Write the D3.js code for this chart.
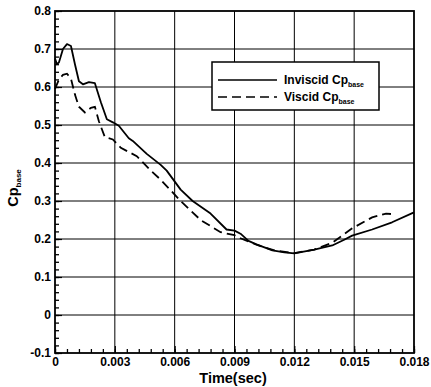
<!DOCTYPE html>
<html>
<head>
<meta charset="utf-8">
<script src="https://cdn.jsdelivr.net/npm/d3@7/dist/d3.min.js"></script>
<style>
  html, body { margin: 0; padding: 0; background: #fff; }
  svg { display: block; }
  text { font-family: "Liberation Sans", Arial, sans-serif; font-weight: bold; fill: #000; }
</style>
</head>
<body>
<svg id="chart" width="431" height="387"></svg>
<script>
// Base pressure coefficient histories
const timeInviscid = [0, 0.0001, 0.0002, 0.0004, 0.0006, 0.0008, 0.001, 0.0012, 0.0014, 0.0017, 0.002,
  0.0023, 0.0026, 0.0029, 0.0032, 0.0037, 0.0039, 0.0046, 0.0053, 0.0056, 0.0063, 0.0069, 0.0078,
  0.0086, 0.009, 0.0093, 0.0097, 0.0101, 0.0109, 0.0115, 0.012, 0.013, 0.0139, 0.0145, 0.0149,
  0.0159, 0.0169, 0.018];
const cpInviscid = [0.675, 0.66, 0.665, 0.70, 0.713, 0.708, 0.66, 0.615, 0.607, 0.613, 0.61,
  0.56, 0.515, 0.507, 0.498, 0.465, 0.458, 0.424, 0.395, 0.38, 0.33, 0.30, 0.267,
  0.225, 0.222, 0.214, 0.195, 0.186, 0.17, 0.165, 0.162, 0.172, 0.183, 0.198, 0.209,
  0.225, 0.244, 0.27];

const timeViscous = [0, 0.0002, 0.0004, 0.0006, 0.0008, 0.001, 0.0012, 0.0015, 0.0018, 0.002,
  0.0022, 0.0025, 0.0029, 0.0033, 0.0041, 0.0048, 0.0053, 0.0063, 0.0073, 0.0083, 0.009,
  0.0093, 0.0101, 0.011, 0.012, 0.013, 0.0139, 0.0149, 0.0159, 0.0166, 0.017];
const cpViscous = [0.595, 0.62, 0.632, 0.635, 0.622, 0.58, 0.548, 0.533, 0.545, 0.548,
  0.51, 0.468, 0.462, 0.44, 0.418, 0.38, 0.356, 0.30, 0.25, 0.218, 0.21,
  0.202, 0.185, 0.17, 0.163, 0.172, 0.19, 0.228, 0.257, 0.267, 0.265];

const xTickValues = [0, 0.003, 0.006, 0.009, 0.012, 0.015, 0.018];
const xTickLabels = ["0", "0.003", "0.006", "0.009", "0.012", "0.015", "0.018"];
const yTickValues = [-0.1, 0, 0.1, 0.2, 0.3, 0.4, 0.5, 0.6, 0.7, 0.8];
const yTickLabels = ["-0.1", "0", "0.1", "0.2", "0.3", "0.4", "0.5", "0.6", "0.7", "0.8"];

const seriesNames = ["Inviscid Cp", "Viscid Cp"];

const svg = d3.select("#chart");
const plotLeft = 55, plotRight = 414, plotTop = 11, plotBottom = 353;

const x = d3.scaleLinear().domain([0, 0.018]).range([plotLeft, plotRight]);
const y = d3.scaleLinear().domain([-0.1, 0.8]).range([plotBottom, plotTop]);

// grid
const grid = svg.append("g").attr("stroke", "#000").attr("stroke-width", 1);
grid.selectAll(".gx").data(xTickValues.slice(1, -1)).join("line")
  .attr("x1", d => x(d)).attr("x2", d => x(d)).attr("y1", plotTop).attr("y2", plotBottom);
grid.selectAll(".gy").data(yTickValues.slice(1, -1)).join("line")
  .attr("y1", d => y(d)).attr("y2", d => y(d)).attr("x1", plotLeft).attr("x2", plotRight);

// minor ticks pointing inward
const xMinor = d3.range(0, 0.018 + 1e-9, 0.0006);
const yMinor = d3.range(-0.1, 0.8 + 1e-9, 0.02);
svg.append("g").attr("transform", `translate(0,${plotBottom})`)
  .call(d3.axisBottom(x).tickValues(xMinor).tickSize(-4).tickFormat(""))
  .call(g => g.select(".domain").remove())
  .selectAll("line").attr("stroke", "#000").attr("stroke-width", 1.3);
svg.append("g").attr("transform", `translate(${plotLeft},0)`)
  .call(d3.axisLeft(y).tickValues(yMinor).tickSize(-4).tickFormat(""))
  .call(g => g.select(".domain").remove())
  .selectAll("line").attr("stroke", "#000").attr("stroke-width", 1.3);

// major ticks and labels
svg.append("g").attr("transform", `translate(0,${plotBottom})`)
  .call(d3.axisBottom(x).tickValues(xTickValues).tickSize(-7).tickPadding(4)
    .tickFormat((d, i) => xTickLabels[i]))
  .call(g => g.select(".domain").remove())
  .call(g => g.selectAll("line").attr("stroke", "#000").attr("stroke-width", 1.2))
  .call(g => g.selectAll("text").attr("font-size", 12)
    .attr("font-family", "Liberation Sans, Arial, sans-serif").attr("font-weight", "bold"));
svg.append("g").attr("transform", `translate(${plotLeft},0)`)
  .call(d3.axisLeft(y).tickValues(yTickValues).tickSize(-7).tickPadding(4)
    .tickFormat((d, i) => yTickLabels[i]))
  .call(g => g.select(".domain").remove())
  .call(g => g.selectAll("line").attr("stroke", "#000").attr("stroke-width", 1.2))
  .call(g => g.selectAll("text").attr("font-size", 12)
    .attr("font-family", "Liberation Sans, Arial, sans-serif").attr("font-weight", "bold"));

// frame
svg.append("rect").attr("x", plotLeft).attr("y", plotTop)
  .attr("width", plotRight - plotLeft).attr("height", plotBottom - plotTop)
  .attr("fill", "none").attr("stroke", "#000").attr("stroke-width", 1.8);

// curves
const line = d3.line().x(d => x(d[0])).y(d => y(d[1]));
svg.append("path")
  .datum(timeInviscid.map((t, i) => [t, cpInviscid[i]]))
  .attr("d", line).attr("fill", "none").attr("stroke", "#000").attr("stroke-width", 1.8)
  .attr("stroke-linejoin", "round");
svg.append("path")
  .datum(timeViscous.map((t, i) => [t, cpViscous[i]]))
  .attr("d", line).attr("fill", "none").attr("stroke", "#000").attr("stroke-width", 1.8)
  .attr("stroke-dasharray", "9,5");

// legend
const lg = svg.append("g");
lg.append("rect").attr("x", 212).attr("y", 62).attr("width", 167).attr("height", 48)
  .attr("fill", "#fff").attr("stroke", "#000").attr("stroke-width", 1.5);
const rows = [{ y: 80, dash: null }, { y: 97, dash: "9,5" }];
rows.forEach((r, i) => {
  lg.append("line").attr("x1", 218).attr("x2", 277).attr("y1", r.y).attr("y2", r.y)
    .attr("stroke", "#000").attr("stroke-width", 1.5)
    .attr("stroke-dasharray", r.dash);
  const t = lg.append("text").attr("x", 284).attr("y", r.y + 4).attr("font-size", 12);
  t.append("tspan").text(seriesNames[i]);
  t.append("tspan").attr("font-size", 7).attr("dy", 3).text("base");
});

// axis titles
svg.append("text").attr("x", 233).attr("y", 383)
  .attr("text-anchor", "middle").attr("font-size", 14.5).text("Time(sec)");
const yt = svg.append("text").attr("transform", "translate(18,188) rotate(-90)")
  .attr("text-anchor", "middle").attr("font-size", 14.5);
yt.append("tspan").text("Cp");
yt.append("tspan").attr("font-size", 8).attr("dy", 3).text("base");
</script>
</body>
</html>
